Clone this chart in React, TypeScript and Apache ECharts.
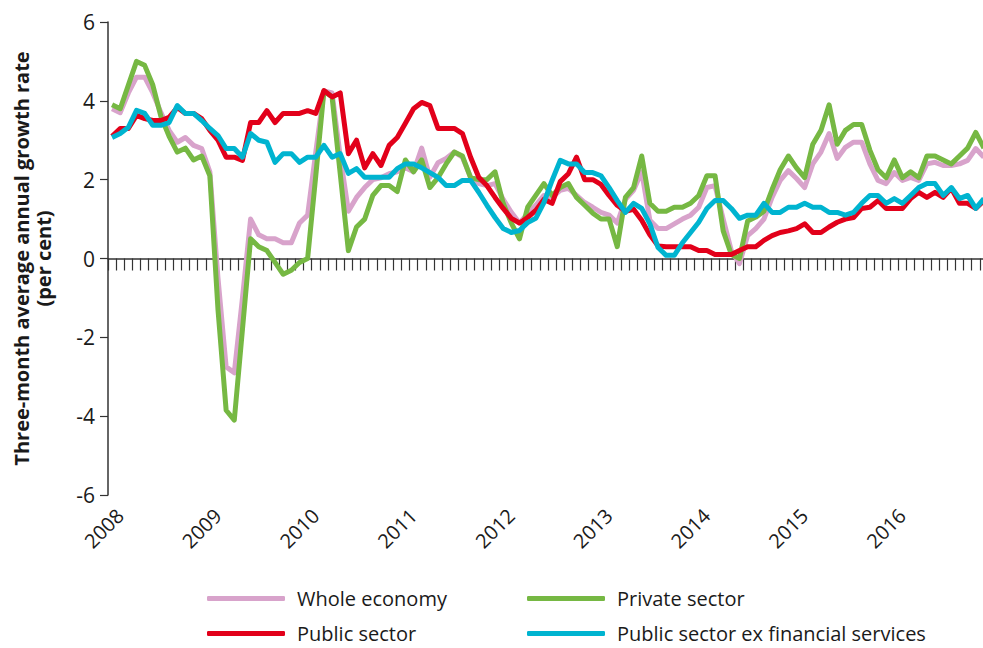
import React, { useEffect, useRef } from "react";
import * as echarts from "echarts";

const years = ["2008", "2009", "2010", "2011", "2012", "2013", "2014", "2015", "2016"];
const monthNames = ["Jan", "Feb", "Mar", "Apr", "May", "Jun", "Jul", "Aug", "Sep", "Oct", "Nov", "Dec"];
const categories: string[] = [];
years.forEach((y) => monthNames.forEach((m) => categories.push(m + " " + y)));

const yTicks = { min: -6, max: 6, interval: 2 };

const wholeEconomy = [
  3.8, 3.7, 4.2, 4.6, 4.6, 4.2, 3.7, 3.25, 2.95, 3.07, 2.87, 2.79, 2.2,
  -0.5, -2.75, -2.9, -1.0, 1.0, 0.6, 0.5, 0.5, 0.4, 0.4, 0.9, 1.1,
  2.7, 4.25, 4.2, 2.6, 1.2, 1.55, 1.8, 2.0, 2.05, 2.15, 2.2,
  2.3, 2.2, 2.8, 2.06, 2.43, 2.54, 2.7, 2.57, 2.06, 1.9, 1.85, 1.9,
  1.5, 1.17, 0.9, 1.14, 1.35, 1.6, 1.55, 1.73, 1.78, 1.6, 1.42, 1.3,
  1.17, 1.1, 0.9, 1.5, 1.73, 2.2, 0.97, 0.76, 0.76, 0.88,
  1.0, 1.1, 1.3, 1.8, 1.85, 1.0, 0.2, -0.13, 0.58, 0.76, 1.0, 1.55,
  1.98, 2.23, 2.03, 1.8, 2.4, 2.7, 3.17, 2.54, 2.82, 2.95, 2.95, 2.4,
  1.98, 1.9, 2.18, 1.98, 2.06, 1.98, 2.4, 2.44, 2.36, 2.36, 2.4, 2.49,
  2.79, 2.57,
];

const privateSector = [
  3.9, 3.8, 4.4, 5.0, 4.9, 4.4, 3.6, 3.1, 2.7, 2.8, 2.5, 2.6, 2.1,
  -1.3, -3.85, -4.1, -1.8, 0.5, 0.3, 0.2, -0.1, -0.4, -0.3, -0.1, 0.0,
  2.1, 4.25, 4.1, 2.15, 0.2, 0.8, 1.0, 1.6,
  1.85, 1.85, 1.7, 2.5, 2.2, 2.5, 1.8, 2.05, 2.4, 2.7, 2.6, 2.05, 2.0, 2.0, 2.2,
  1.4, 0.9, 0.5, 1.3, 1.6, 1.9, 1.6, 1.8, 1.9, 1.55, 1.35, 1.15,
  1.0, 1.0, 0.3, 1.55, 1.8, 2.6, 1.4, 1.2, 1.2, 1.3, 1.3, 1.4, 1.6,
  2.1, 2.1, 0.7, 0.1, 0.0, 0.95, 1.05, 1.2, 1.75, 2.25, 2.6,
  2.3, 2.05, 2.9, 3.25, 3.9, 2.9, 3.25, 3.4, 3.4, 2.75, 2.25, 2.05,
  2.5, 2.05, 2.2, 2.05, 2.6, 2.6, 2.5, 2.4, 2.6, 2.8, 3.2, 2.8,
];

const publicSector = [
  3.1, 3.3, 3.3, 3.63, 3.55, 3.5, 3.5, 3.58, 3.83, 3.68, 3.68, 3.55,
  3.25, 3.0, 2.57, 2.57, 2.49, 3.45, 3.45, 3.75, 3.45, 3.68, 3.68, 3.68,
  3.75, 3.68, 4.26, 4.1, 4.2, 2.66, 3.0, 2.3, 2.66, 2.36, 2.87, 3.07,
  3.43, 3.8, 3.96, 3.88, 3.3, 3.3, 3.3, 3.17, 2.57, 2.06, 1.85, 1.55,
  1.27, 1.02, 0.9, 1.04, 1.22, 1.5, 1.4, 1.95, 2.15, 2.57, 2.0, 2.0,
  1.88, 1.6, 1.35, 1.2, 1.25, 0.97, 0.6, 0.32, 0.3, 0.3, 0.3, 0.3,
  0.2, 0.2, 0.1, 0.1, 0.1, 0.2, 0.3, 0.3, 0.46, 0.58, 0.66, 0.7,
  0.76, 0.88, 0.66, 0.66, 0.8, 0.92, 1.0, 1.04, 1.27, 1.3, 1.47, 1.27,
  1.27, 1.27, 1.52, 1.68, 1.55, 1.68, 1.55, 1.78, 1.4, 1.4, 1.27, 1.47,
];

const publicExFinancial = [
  3.07, 3.17, 3.33, 3.76, 3.68, 3.38, 3.38, 3.45, 3.88, 3.68, 3.68, 3.5,
  3.3, 3.12, 2.79, 2.79, 2.57, 3.17, 3.0, 2.95, 2.44, 2.66, 2.66, 2.44,
  2.57, 2.57, 2.87, 2.57, 2.66, 2.16, 2.28, 2.06, 2.06, 2.06, 2.06, 2.28,
  2.4, 2.4, 2.3, 2.18, 2.06, 1.85, 1.85, 1.98, 1.98, 1.68, 1.35, 1.04,
  0.76, 0.66, 0.71, 0.91, 1.02, 1.42, 1.98, 2.49, 2.4, 2.4, 2.18, 2.18,
  2.1, 1.8, 1.47, 1.17, 1.4, 1.27, 0.88, 0.28, 0.08, 0.08, 0.4, 0.66,
  0.92, 1.27, 1.47, 1.47, 1.27, 1.02, 1.1, 1.1, 1.4, 1.17, 1.17, 1.3,
  1.3, 1.4, 1.3, 1.3, 1.17, 1.17, 1.1, 1.17, 1.4, 1.6, 1.6, 1.4,
  1.52, 1.4, 1.6, 1.8, 1.9, 1.9, 1.6, 1.8, 1.52, 1.6, 1.27, 1.52,
];

const seriesNames = [
  "Whole economy",
  "Private sector",
  "Public sector",
  "Public sector ex financial services",
];
const seriesColors = ["#d8a3cb", "#76b843", "#e2001a", "#00b4d0"];

const FONT = "'Open Sans', 'Noto Sans', sans-serif";
const TEXT = "#1a1a1a";

export default function App() {
  const ref = useRef<HTMLDivElement>(null);

  useEffect(() => {
    document.body.style.margin = "0";
    if (!ref.current) return;
    const chart = echarts.init(ref.current, undefined, { renderer: "svg" });
    const dataSets = [wholeEconomy, privateSector, publicSector, publicExFinancial];
    const nMonths = categories.length;

    const legendPos = [
      { left: 207, top: 588 },
      { left: 527, top: 588 },
      { left: 207, top: 623 },
      { left: 527, top: 623 },
    ];

    const option: any = {
      animation: false,
      backgroundColor: "#ffffff",
      textStyle: { fontFamily: FONT },
      grid: {
        left: 108,
        top: 22,
        width: 880,
        height: 473,
        containLabel: false,
        outerBoundsMode: "none",
      },
      legend: seriesNames.map((n, i) => ({
        data: [n],
        left: legendPos[i].left,
        top: legendPos[i].top,
        padding: 0,
        icon: "roundRect",
        itemWidth: 78,
        itemHeight: 5,
        selectedMode: false,
        textStyle: {
          fontFamily: FONT,
          fontSize: 20,
          color: TEXT,
          lineHeight: 21,
          padding: [0, 0, 0, 7],
        },
      })),
      xAxis: [
        {
          // year labels, placed at the January boundaries
          type: "value",
          min: 0,
          max: nMonths,
          interval: 12,
          position: "bottom",
          axisLine: { show: false, onZero: false },
          axisTick: { show: false },
          splitLine: { show: false },
          axisLabel: {
            rotate: 45,
            align: "center",
            verticalAlign: "middle",
            margin: 29,
            padding: [0, 12, 0, 0],
            fontFamily: FONT,
            fontSize: 20,
            color: TEXT,
            showMaxLabel: false,
            formatter: (v: number) => (v < nMonths ? years[Math.round(v / 12)] : ""),
          },
        },
        {
          type: "category",
          data: categories,
          boundaryGap: true,
          position: "bottom",
          axisLine: { show: true, onZero: true, lineStyle: { color: "#333", width: 1.5 } },
          axisTick: { show: true, interval: 0, length: 12, lineStyle: { color: "#333", width: 1.2 } },
          axisLabel: { show: false },
          splitLine: { show: false },
        },
      ],
      yAxis: {
        type: "value",
        min: yTicks.min,
        max: yTicks.max,
        interval: yTicks.interval,
        name: "Three-month average annual growth rate\n(per cent)",
        nameLocation: "middle",
        nameGap: 54,
        nameTextStyle: {
          fontFamily: FONT,
          fontWeight: "bold",
          fontSize: 20,
          lineHeight: 22,
          color: TEXT,
        },
        axisLine: { show: true, lineStyle: { color: "#333", width: 1.5 } },
        axisTick: { show: true, length: 8, lineStyle: { color: "#333", width: 1.2 } },
        splitLine: { show: false },
        axisLabel: {
          margin: 13,
          fontFamily: FONT,
          fontSize: 21,
          color: TEXT,
        },
      },
      series: seriesNames.map((n, i) => ({
        name: n,
        type: "line",
        xAxisIndex: 1,
        data: dataSets[i],
        symbol: "none",
        smooth: false,
        z: 2 + i,
        color: seriesColors[i],
        lineStyle: { color: seriesColors[i], width: 5, join: "round" },
      })),
    };

    chart.setOption(option);
    return () => chart.dispose();
  }, []);

  return <div ref={ref} style={{ width: 983, height: 648 }} />;
}
